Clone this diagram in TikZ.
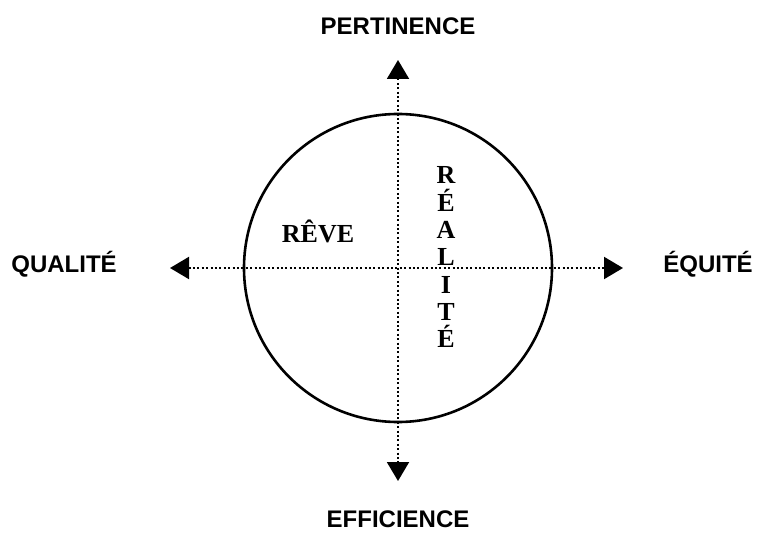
\documentclass[tikz,border=0pt]{standalone}
\usepackage{fontspec}
\setmainfont{Liberation Serif}
\newfontfamily\arialgras{Liberation Sans}
\usetikzlibrary{arrows.meta}
\begin{document}
\begin{tikzpicture}[x=1pt,y=-1pt,
    axe/.style={line width=2pt, dash pattern=on 2pt off 2.4pt,
        {Triangle[length=19pt,width=22pt]}-{Triangle[length=19pt,width=22pt]}},
    pole/.style={font=\arialgras\bfseries\fontsize{24}{28}\selectfont, anchor=base},
    lettre/.style={font=\bfseries\fontsize{26}{30}\selectfont, anchor=base}]
\useasboundingbox (0,0) rectangle (762,553);
\coordinate (c) at (398,268);
\coordinate (nord) at (398,60);
\coordinate (sud) at (398,481);
\coordinate (ouest) at (170,268);
\coordinate (est) at (623,268);
\draw[line width=2.6pt] (c) circle[radius=154pt];
\draw[axe] (ouest) -- (est);
\draw[axe] (nord) -- (sud);
\node[pole] (pertinence) at (398,35) {PERTINENCE};
\node[pole] (efficience) at (398,527) {EFFICIENCE};
\node[pole] (qualite) at (64,272) {QUALITÉ};
\node[pole] (equite) at (708,272) {ÉQUITÉ};
\node[lettre] (reve) at (318,243) {RÊVE};
\foreach \l [count=\i] in {R,É,A,L,I,T,É} {
    \node[lettre] (r\i) at (446,{184+27.3*(\i-1)}) {\l};
}
\end{tikzpicture}
\end{document}
